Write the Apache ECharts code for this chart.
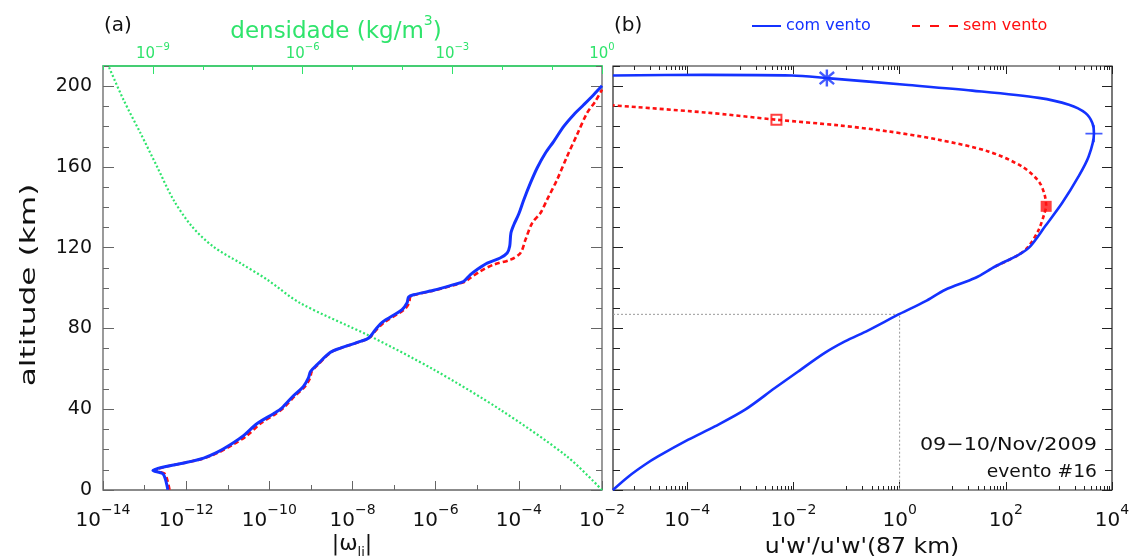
<!DOCTYPE html>
<html><head><meta charset="utf-8">
<script src="https://cdn.jsdelivr.net/npm/echarts@6/dist/echarts.min.js"></script>
<style>html,body{margin:0;padding:0;background:#fff}#c{width:1134px;height:560px}</style>
</head><body><div id="c"></div>
<script>
// ---------------- data ----------------
// Panel (a): |omega_li| profiles, stored as log10 of the value, vs altitude (km)
const altComA = [0.15,5.4,8.1,9.7,11.4,13.7,15.8,18.6,22.4,26.9,32.8,37.8,40.6,46.7,51.3,55.5,58.7,62.1,68.2,70.3,73.6,75.3,79.4,83.0,89.3,92.6,95.6,96.7,98.9,101.7,103.3,106.6,109.1,112.4,114.9,117.4,120.7,127.3,131.4,136.8,143.8,152.1,159.5,166.9,172.7,180.1,185.9,190.8,195.8,200.2];
const logOmegaComA = [-12.44,-12.50,-12.56,-12.80,-12.54,-11.98,-11.58,-11.26,-10.94,-10.62,-10.30,-9.90,-9.70,-9.42,-9.18,-9.06,-9.01,-8.85,-8.53,-8.29,-7.81,-7.61,-7.45,-7.29,-6.81,-6.69,-6.65,-6.53,-6.05,-5.57,-5.33,-5.17,-5.01,-4.76,-4.45,-4.28,-4.22,-4.19,-4.12,-4.00,-3.88,-3.72,-3.56,-3.36,-3.16,-2.92,-2.68,-2.44,-2.20,-2.00];
const altSemA = [0.15,5.4,8.1,9.7,11.4,13.7,15.8,18.6,22.4,26.9,32.8,37.8,40.6,46.7,51.3,55.5,58.7,62.1,68.2,70.3,73.6,75.3,79.4,83.0,89.3,92.6,95.6,96.7,98.9,101.7,103.3,105,108.3,111.6,114.1,117.4,124,132.2,137.2,143.8,153.7,165.2,176,186.7,192.5,198.3];
const logOmegaSemA = [-12.40,-12.46,-12.52,-12.76,-12.52,-11.98,-11.56,-11.22,-10.88,-10.54,-10.22,-9.84,-9.66,-9.38,-9.14,-9.02,-8.98,-8.83,-8.52,-8.28,-7.80,-7.60,-7.42,-7.24,-6.76,-6.64,-6.61,-6.50,-6.02,-5.52,-5.28,-5.17,-4.93,-4.61,-4.20,-3.96,-3.84,-3.68,-3.48,-3.32,-3.08,-2.84,-2.60,-2.36,-2.16,-2.00];
// Panel (a): density (kg/m^3), log10, vs altitude
const altRho = [0,16.6,39.8,59.6,76.1,92.6,104.2,112.4,120.7,130.6,143.8,160.3,176.8,193.3,210];
const logRho = [0.0,-0.70,-2.04,-3.37,-4.64,-6.05,-6.71,-7.25,-7.80,-8.22,-8.59,-8.92,-9.25,-9.59,-9.89];
// Panel (b): u'w'/u'w'(87 km), log10, vs altitude
const altComB = [0,6.6,12.5,16.6,24.9,31.5,39.8,50.5,58.7,67.9,73.6,79.1,87.2,93.4,99.2,105,110.7,116.5,120.7,130.6,142.1,155.3,165.2,176.5,181.8,186.7,190.8,194.2,197.8,200.7,204.0,205.3,205.6,205.3];
const logFluxComB = [-5.40,-5.11,-4.80,-4.55,-3.98,-3.48,-2.91,-2.35,-1.91,-1.41,-1.03,-0.59,0.0,0.48,0.86,1.42,1.80,2.24,2.46,2.74,3.06,3.37,3.56,3.66,3.63,3.50,3.19,2.62,1.37,0.11,-1.37,-2.03,-3.67,-5.40];
const altSemB = [110.7,116.5,120.7,128.9,137.2,140.5,146.3,152.9,160.3,167.7,173.5,177.6,180.6,183.4,187.0,190.5];
const logFluxSemB = [1.80,2.24,2.43,2.62,2.73,2.76,2.73,2.62,2.30,1.67,0.73,-0.21,-1.15,-2.32,-3.67,-5.40];
// reference: normalisation altitude 87 km, ratio 1 (log 0)
const refAlt = 87;
const refLog = 0;
// special points [log10 value, altitude]
const asteriskCom = [[-1.37, 204.0]];
const plusCom = [[3.66, 176.5]];
const openSqSem = [[-2.32, 183.4]];
const fillSqSem = [[2.76, 140.5]];
// axes (log10 exponents / km)
const omegaRange = [-14, -2];
const rhoRange = [-10, 0];
const fluxRange = [Math.log10(4e-6), 4];
const altRange = [0, 210];
const omegaLabels = [-14,-12,-10,-8,-6,-4,-2];
const rhoLabels = [-9,-6,-3,0];
const fluxLabels = [-4,-2,0,2,4];
const altLabels = [0,40,80,120,160,200];

// ---------------- helpers ----------------
const FONT = 'DejaVu Sans';
const BLUE = '#1432ff', RED = '#ff1010', GREEN = '#2fe46c', INK = '#111';
const zip = (xs, ys) => xs.map((x, i) => [x, ys[i]]);
const range = (a, b) => { const r = []; for (let i = a; i <= b; i++) r.push(i); return r; };
const omegaMinor = range(-14, -2).filter(v => v % 2 !== 0);
const rhoMinor = range(-10, 0).filter(v => v % 3 !== 0);
const fluxMinor = [];
[-5, -3, -1, 1, 3].forEach(n => { for (let k = 1; k <= 9; k++) fluxMinor.push(n + Math.log10(k)); });
const altMinor = range(0, 21).map(v => v * 10).filter(v => v % 40 !== 0);
const supLabel = v => { const e = Math.round(v); return '{b|10}{s|' + (e < 0 ? '\u2212' + (-e) : String(e)) + '}'; };

function xAx(grid, pos, rng, ticks, len, color, label, line) {
  return {
    type: 'value', gridIndex: grid, position: pos, min: rng[0], max: rng[1],
    splitLine: {show: false},
    axisLine: line || {show: false, onZero: false},
    axisTick: {show: true, inside: true, length: len, customValues: ticks, lineStyle: {color: color, width: 1}},
    axisLabel: label || {show: false}
  };
}
function yAx(grid, pos, ticks, len, color, label) {
  return {
    type: 'value', gridIndex: grid, position: pos, min: altRange[0], max: altRange[1],
    splitLine: {show: false},
    axisLine: {show: false, onZero: false},
    axisTick: {show: true, inside: true, length: len, customValues: ticks, lineStyle: {color: color, width: 1}},
    axisLabel: label || {show: false}
  };
}
const bottomLabel = (vals) => ({
  show: true, customValues: vals, margin: 13, formatter: supLabel,
  rich: {
    b: {fontSize: 20, fontFamily: FONT, color: INK, lineHeight: 28, verticalAlign: 'bottom'},
    s: {fontSize: 14, fontFamily: FONT, color: INK, lineHeight: 14, verticalAlign: 'top'}
  }
});
const topLabel = {
  show: true, customValues: rhoLabels, margin: 4, formatter: supLabel,
  rich: {
    b: {fontSize: 15, fontFamily: FONT, color: GREEN, lineHeight: 20, verticalAlign: 'bottom'},
    s: {fontSize: 10, fontFamily: FONT, color: GREEN, lineHeight: 10, verticalAlign: 'top'}
  }
};
const AX_A = '#666', AX_B = '#222';

const option = {
  animation: false,
  backgroundColor: '#fff',
  grid: [
    {left: 103, top: 66, width: 499, height: 424, show: true, borderColor: AX_A, borderWidth: 1.3, backgroundColor: 'transparent'},
    {left: 613, top: 66, width: 499, height: 424, show: true, borderColor: AX_B, borderWidth: 1.2, backgroundColor: 'transparent'}
  ],
  xAxis: [
    xAx(0, 'bottom', omegaRange, omegaLabels, 9, AX_A, bottomLabel(omegaLabels)),
    xAx(0, 'bottom', omegaRange, omegaMinor, 5, AX_A),
    xAx(0, 'top', rhoRange, rhoLabels, 8, GREEN, topLabel, {show: true, onZero: false, lineStyle: {color: GREEN, width: 1.5}}),
    xAx(0, 'top', rhoRange, rhoMinor, 4, GREEN),
    xAx(1, 'bottom', fluxRange, fluxLabels, 8, AX_B, bottomLabel(fluxLabels)),
    xAx(1, 'bottom', fluxRange, fluxMinor, 4, AX_B),
    xAx(1, 'top', fluxRange, fluxLabels, 8, AX_B),
    xAx(1, 'top', fluxRange, fluxMinor, 4, AX_B)
  ],
  yAxis: [
    yAx(0, 'left', altLabels, 11, AX_A, {show: true, customValues: altLabels, margin: 11, fontSize: 19, fontFamily: FONT, color: INK}),
    yAx(0, 'left', altMinor, 6, AX_A),
    yAx(0, 'right', altLabels, 11, AX_A),
    yAx(0, 'right', altMinor, 6, AX_A),
    yAx(1, 'left', altLabels, 10, AX_B),
    yAx(1, 'left', altMinor, 7, AX_B),
    yAx(1, 'right', altLabels, 10, AX_B),
    yAx(1, 'right', altMinor, 7, AX_B)
  ],
  legend: [
    {data: [{name: 'com vento', icon: 'rect', textStyle: {color: BLUE}}],
     left: 747, top: 13, itemWidth: 29, itemHeight: 2, itemGap: 5, selectedMode: false,
     textStyle: {fontSize: 16, fontFamily: FONT}},
    {data: [{name: 'sem vento', icon: 'path://M0 0 H8 V2 H0 Z M18 0 H27 V2 H18 Z M37 0 H46 V2 H37 Z', textStyle: {color: RED}}],
     left: 907, top: 13, itemWidth: 46, itemHeight: 2, selectedMode: false,
     textStyle: {fontSize: 16, fontFamily: FONT}}
  ],
  series: [
    {name: 'densidade', type: 'line', xAxisIndex: 2, yAxisIndex: 0, data: zip(logRho, altRho), symbol: 'none', smooth: 0.3,
     lineStyle: {color: GREEN, width: 2.2, type: [2, 2.2]}, z: 2},
    {name: 'sem vento', type: 'line', xAxisIndex: 0, yAxisIndex: 0, data: zip(logOmegaSemA, altSemA), symbol: 'none', smooth: 0.3,
     itemStyle: {color: RED}, lineStyle: {color: RED, width: 2.6, type: [5, 3]}, z: 3},
    {name: 'com vento', type: 'line', xAxisIndex: 0, yAxisIndex: 0, data: zip(logOmegaComA, altComA), symbol: 'none', smooth: 0.3,
     itemStyle: {color: BLUE}, lineStyle: {color: BLUE, width: 3}, z: 4},
    {name: 'ref', type: 'line', xAxisIndex: 4, yAxisIndex: 4, symbol: 'none',
     data: [[fluxRange[0], refAlt], [refLog, refAlt], [refLog, altRange[0]]],
     lineStyle: {color: '#999', width: 1, type: [2, 2]}, z: 2},
    {name: 'sem vento', type: 'line', xAxisIndex: 4, yAxisIndex: 4, data: zip(logFluxSemB, altSemB), symbol: 'none', smooth: 0.3,
     itemStyle: {color: RED}, lineStyle: {color: RED, width: 2.6, type: [4, 3]}, z: 3},
    {name: 'com vento', type: 'line', xAxisIndex: 4, yAxisIndex: 4, data: zip(logFluxComB, altComB), symbol: 'none', smooth: 0.3,
     itemStyle: {color: BLUE}, lineStyle: {color: BLUE, width: 2.6}, z: 4},
    {name: 'asterisco', type: 'scatter', xAxisIndex: 4, yAxisIndex: 4, data: asteriskCom, z: 6,
     symbol: 'path://M-1 -7 L1 -7 L1 7 L-1 7 Z M-5.36 -5.77 L6.64 4.23 L5.36 5.77 L-6.64 -4.23 Z M-6.64 4.23 L5.36 -5.77 L6.64 -4.23 L-5.36 5.77 Z',
     symbolSize: [16, 17], itemStyle: {color: BLUE}},
    {name: 'mais', type: 'scatter', xAxisIndex: 4, yAxisIndex: 4, data: plusCom, z: 6,
     symbol: 'path://M-8 -0.9 L8 -0.9 L8 0.9 L-8 0.9 Z M-0.9 -8 L0.9 -8 L0.9 8 L-0.9 8 Z',
     symbolSize: 17, itemStyle: {color: BLUE}},
    {name: 'quadrado aberto', type: 'scatter', xAxisIndex: 4, yAxisIndex: 4, data: openSqSem, z: 6,
     symbol: 'rect', symbolSize: 10, itemStyle: {color: 'rgba(255,255,255,0)', borderColor: RED, borderWidth: 2}},
    {name: 'quadrado cheio', type: 'scatter', xAxisIndex: 4, yAxisIndex: 4, data: fillSqSem, z: 6,
     symbol: 'rect', symbolSize: 11, itemStyle: {color: RED}}
  ],
  graphic: [
    {type: 'text', x: 104, y: 26, style: {text: '(a)', fontSize: 20, fontFamily: FONT, fill: INK, align: 'left', verticalAlign: 'middle'}},
    {type: 'text', x: 614, y: 26, style: {text: '(b)', fontSize: 20, fontFamily: FONT, fill: INK, align: 'left', verticalAlign: 'middle'}},
    {type: 'text', x: 336, y: 29, style: {text: '{t|densidade (kg/m}{s|3}{t|)}', align: 'center', verticalAlign: 'middle',
      rich: {t: {fontSize: 23, fontFamily: FONT, fill: GREEN, lineHeight: 30, verticalAlign: 'bottom'},
             s: {fontSize: 14, fontFamily: FONT, fill: GREEN, lineHeight: 14, verticalAlign: 'top'}}}},
    {type: 'text', x: 29, y: 285, rotation: Math.PI / 2, scaleX: 1.42,
     style: {text: 'altitude (km)', fontSize: 22, fontFamily: FONT, fill: INK, align: 'center', verticalAlign: 'middle'}},
    {type: 'text', x: 352, y: 546, style: {text: '{t||\u03C9}{u|li}{t||}', align: 'center', verticalAlign: 'middle',
      rich: {t: {fontSize: 22, fontFamily: FONT, fill: INK, lineHeight: 26, verticalAlign: 'top'},
             u: {fontSize: 13, fontFamily: FONT, fill: INK, lineHeight: 13, verticalAlign: 'bottom'}}}},
    {type: 'text', x: 862, y: 547, scaleX: 1.07,
     style: {text: "u'w'/u'w'(87 km)", fontSize: 22, fontFamily: FONT, fill: INK, align: 'center', verticalAlign: 'middle'}},
    {type: 'text', x: 1097, y: 445, scaleX: 1.15,
     style: {text: '09\u221210/Nov/2009', fontSize: 18, fontFamily: FONT, fill: INK, align: 'right', verticalAlign: 'middle'}},
    {type: 'text', x: 1097, y: 472, scaleX: 1.04,
     style: {text: 'evento #16', fontSize: 18, fontFamily: FONT, fill: INK, align: 'right', verticalAlign: 'middle'}}
  ]
};
const chart = echarts.init(document.getElementById('c'), null, {renderer: 'canvas'});
chart.setOption(option);
</script></body></html>
